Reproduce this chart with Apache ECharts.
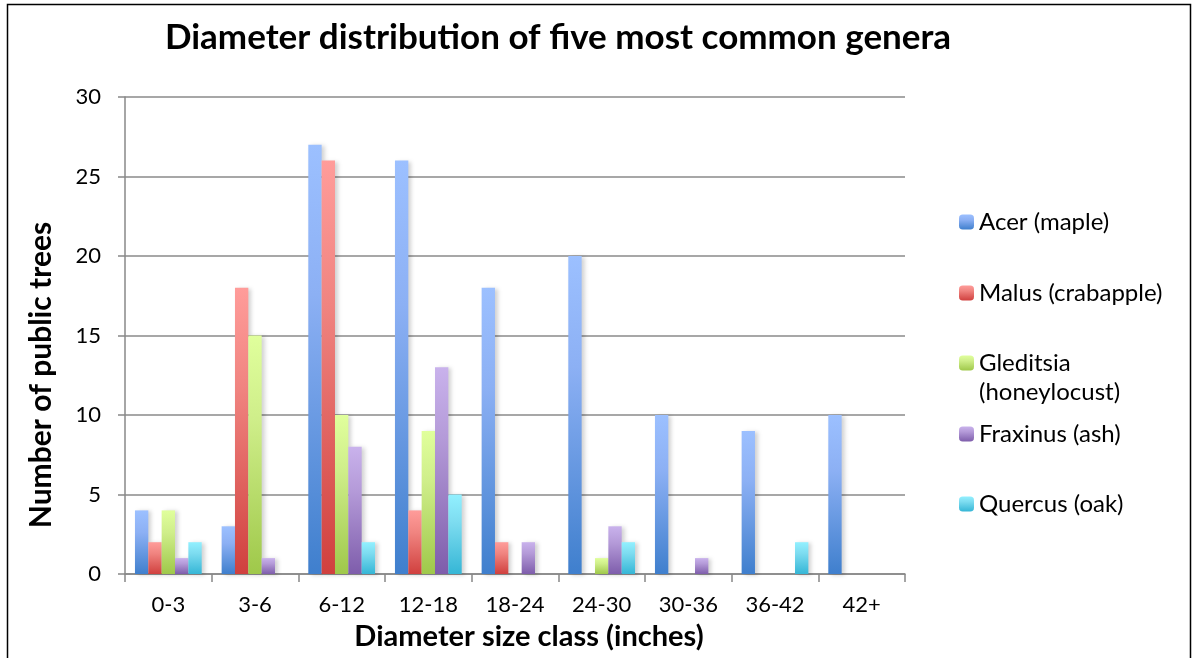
<!DOCTYPE html>
<html><head><meta charset="utf-8">
<script src="https://cdn.jsdelivr.net/npm/echarts@6/dist/echarts.min.js"></script>
<style>html,body{margin:0;padding:0;background:#fff}#c{width:1198px;height:658px}</style>
</head><body><div id="c"></div>
<script>
const categories = ['0-3','3-6','6-12','12-18','18-24','24-30','30-36','36-42','42+'];
const acer      = [4, 3, 27, 26, 18, 20, 10, 9, 10];
const malus     = [2, 18, 26, 4, 2, 0, 0, 0, 0];
const gleditsia = [4, 15, 10, 9, 0, 1, 0, 0, 0];
const fraxinus  = [1, 1, 8, 13, 2, 3, 1, 0, 0];
const quercus   = [2, 0, 2, 5, 0, 2, 0, 2, 0];
const yTicks = [0, 5, 10, 15, 20, 25, 30];

const FONT = 'Lato, "Open Sans", sans-serif';
const names = ['Acer (maple)','Malus (crabapple)','Gleditsia (honeylocust)','Fraxinus (ash)','Quercus (oak)'];
const grads = [['#9cc0ff','#8cb0f4','#3f7fcd'],['#ff9c9a','#f08480','#d0403e'],['#e0ff9c','#cfee8a','#9fc84a'],['#c9b2ec','#b49ad8','#7e5dab'],['#92f0ff','#7ddcf0','#35b6d6']];
const datas = [acer, malus, gleditsia, fraxinus, quercus];
const legendCenters = [217, 288, 358, 429, 499];

const chart = echarts.init(document.getElementById('c'));
const series = names.map((n,i)=>({
  name:n, type:'bar', data:datas[i], barGap:'0%', barCategoryGap:'23%',
  itemStyle:{
    color:new echarts.graphic.LinearGradient(0,0,0,1,[{offset:0,color:grads[i][0]},{offset:0.35,color:grads[i][1]},{offset:1,color:grads[i][2]}]),
    shadowColor:'rgba(0,0,0,0.18)', shadowBlur:4, shadowOffsetX:3, shadowOffsetY:1
  }
}));
const legends = names.map((n,i)=>({
  data:[n], orient:'vertical', left:954, top:legendCenters[i]-12, itemWidth:15, itemHeight:15, itemGap:0,
  textStyle:{fontFamily:FONT, fontSize:24, color:'#000', lineHeight:24},
  formatter: n==='Gleditsia (honeylocust)' ? 'Gleditsia' : n
}));
chart.setOption({
  animation:false,
  backgroundColor:'#fff',
  title:{text:'Diameter distribution of five most common genera', left:553, top:15, textAlign:'center',
    textStyle:{fontFamily:FONT, fontSize:35, fontWeight:'bold', color:'#000'}},
  legend:legends,
  grid:{left:125, right:293, top:97, bottom:84},
  xAxis:{type:'category', data:categories,
    axisLine:{lineStyle:{color:'#888', width:1.5}},
    axisTick:{show:true, length:8, lineStyle:{color:'#888', width:1.5}},
    axisLabel:{fontFamily:FONT, fontSize:22, color:'#000', margin:20}},
  yAxis:{type:'value', min:0, max:30, interval:5,
    axisLine:{show:true, lineStyle:{color:'#888', width:1.5}},
    axisTick:{show:true, length:7, lineStyle:{color:'#888', width:1.5}},
    splitLine:{lineStyle:{color:'#8a8a8a', width:1.5}},
    axisLabel:{fontFamily:FONT, fontSize:22, color:'#000', margin:24,
      formatter:v=>yTicks.includes(v)?String(v):''}},
  series:series,
  graphic:[
    {type:'rect', shape:{x:7.5, y:4.5, width:1183, height:700}, style:{fill:'none', stroke:'#000', lineWidth:1.5}, silent:true},
    {type:'text', x:979, y:392, style:{text:'(honeylocust)', fontFamily:FONT, fontSize:24, fill:'#000', verticalAlign:'middle'}},
    {type:'text', x:529, y:637, style:{text:'Diameter size class (inches)', fontFamily:FONT, fontSize:29, fontWeight:'bold', fill:'#000', align:'center', verticalAlign:'middle'}},
    {type:'text', x:41, y:375, rotation:Math.PI/2, style:{text:'Number of public trees', fontFamily:FONT, fontSize:30, fontWeight:'bold', fill:'#000', align:'center', verticalAlign:'middle'}}
  ]
});
</script></body></html>
